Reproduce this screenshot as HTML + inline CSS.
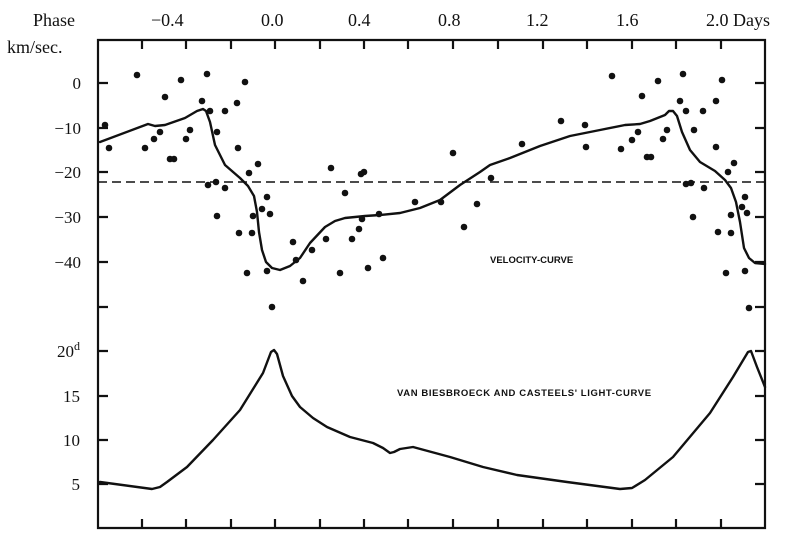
<!DOCTYPE html><html><head><style>body{margin:0;background:#fff}svg{display:block}text{font-family:"Liberation Serif",serif;fill:#111}</style></head><body>
<svg width="802" height="543" viewBox="0 0 802 543">
<g stroke="#111" stroke-width="2.2" fill="none">
<path d="M98,40 L765,40 L765,528 L98,528 Z"/>
<path d="M142,40v9M186,40v9M231,40v9M275,40v9M320,40v9M364,40v9M408,40v9M453,40v9M498,40v9M543,40v9M587,40v9M632,40v9M676,40v9M721,40v9"/>
<path d="M142,528v-9M186,528v-9M231,528v-9M275,528v-9M320,528v-9M364,528v-9M408,528v-9M453,528v-9M498,528v-9M543,528v-9M587,528v-9M632,528v-9M676,528v-9M721,528v-9"/>
<path d="M98,83h10M98,128h10M98,172h10M98,217h10M98,262h10M98,307h10M98,351h10M98,396h10M98,440h10M98,484h10"/>
<path d="M765,83h-10M765,128h-10M765,172h-10M765,217h-10M765,262h-10M765,307h-10M765,351h-10M765,396h-10M765,440h-10M765,484h-10"/>
</g>
<line x1="98" y1="182" x2="765" y2="182" stroke="#111" stroke-width="1.6" stroke-dasharray="9,5"/>
<path fill="none" stroke="#111" stroke-width="2.4" stroke-linejoin="round" stroke-linecap="round" d="M100,142 L148,124 L155,126 L165,125 L185,118 L197,111 L203,109 L206,111 L210,122 L215,145 L225,165 L240,178 L248,186 L254,196 L257,212 L259,232 L262,250 L266,262 L272,268 L280,270 L290,266 L300,258 L310,243 L325,227 L335,221 L345,218 L365,216 L380,215 L400,213 L420,208 L440,200 L460,185 L480,172 L490,165 L510,158 L540,146 L570,136 L600,130 L625,125 L640,124 L650,121 L665,115 L669,111 L673,111 L677,116 L682,132 L690,150 L700,162 L715,171 L725,180 L731,188 L736,202 L740,222 L744,248 L749,258 L755,263 L765,264"/>
<path fill="none" stroke="#111" stroke-width="2.4" stroke-linejoin="round" stroke-linecap="round" d="M100,482 L152,489 L160,487 L167,482 L187,467 L213,440 L240,410 L263,373 L271,352 L274,350 L277,354 L283,376 L292,396 L300,407 L313,418 L327,427 L350,437 L373,443 L383,448 L390,453 L394,452 L400,449 L413,447 L450,457 L483,467 L517,475 L567,482 L620,489 L632,488 L645,480 L673,457 L710,413 L733,377 L748,352 L751,351 L757,367 L765,387"/>
<g fill="#111">
<circle cx="105" cy="125" r="3.3"/><circle cx="109" cy="148" r="3.3"/><circle cx="137" cy="75" r="3.3"/><circle cx="145" cy="148" r="3.3"/><circle cx="154" cy="139" r="3.3"/><circle cx="160" cy="132" r="3.3"/><circle cx="165" cy="97" r="3.3"/><circle cx="170" cy="159" r="3.3"/><circle cx="174" cy="159" r="3.3"/><circle cx="181" cy="80" r="3.3"/><circle cx="186" cy="139" r="3.3"/><circle cx="190" cy="130" r="3.3"/><circle cx="202" cy="101" r="3.3"/><circle cx="207" cy="74" r="3.3"/><circle cx="208" cy="185" r="3.3"/><circle cx="210" cy="111" r="3.3"/><circle cx="216" cy="182" r="3.3"/><circle cx="217" cy="132" r="3.3"/><circle cx="217" cy="216" r="3.3"/><circle cx="225" cy="111" r="3.3"/><circle cx="225" cy="188" r="3.3"/><circle cx="237" cy="103" r="3.3"/><circle cx="238" cy="148" r="3.3"/><circle cx="239" cy="233" r="3.3"/><circle cx="245" cy="82" r="3.3"/><circle cx="247" cy="273" r="3.3"/><circle cx="249" cy="173" r="3.3"/><circle cx="252" cy="233" r="3.3"/><circle cx="253" cy="216" r="3.3"/><circle cx="258" cy="164" r="3.3"/><circle cx="262" cy="209" r="3.3"/><circle cx="267" cy="197" r="3.3"/><circle cx="267" cy="271" r="3.3"/><circle cx="270" cy="214" r="3.3"/><circle cx="272" cy="307" r="3.3"/><circle cx="293" cy="242" r="3.3"/><circle cx="296" cy="260" r="3.3"/><circle cx="303" cy="281" r="3.3"/><circle cx="312" cy="250" r="3.3"/><circle cx="326" cy="239" r="3.3"/><circle cx="331" cy="168" r="3.3"/><circle cx="340" cy="273" r="3.3"/><circle cx="345" cy="193" r="3.3"/><circle cx="352" cy="239" r="3.3"/><circle cx="359" cy="229" r="3.3"/><circle cx="361" cy="174" r="3.3"/><circle cx="364" cy="172" r="3.3"/><circle cx="362" cy="219" r="3.3"/><circle cx="368" cy="268" r="3.3"/><circle cx="379" cy="214" r="3.3"/><circle cx="383" cy="258" r="3.3"/>
<circle cx="415" cy="202" r="3.3"/><circle cx="441" cy="202" r="3.3"/><circle cx="453" cy="153" r="3.3"/><circle cx="464" cy="227" r="3.3"/><circle cx="477" cy="204" r="3.3"/><circle cx="491" cy="178" r="3.3"/><circle cx="522" cy="144" r="3.3"/><circle cx="561" cy="121" r="3.3"/><circle cx="585" cy="125" r="3.3"/><circle cx="586" cy="147" r="3.3"/><circle cx="612" cy="76" r="3.3"/><circle cx="621" cy="149" r="3.3"/><circle cx="632" cy="140" r="3.3"/><circle cx="638" cy="132" r="3.3"/><circle cx="642" cy="96" r="3.3"/><circle cx="647" cy="157" r="3.3"/><circle cx="651" cy="157" r="3.3"/><circle cx="658" cy="81" r="3.3"/><circle cx="663" cy="139" r="3.3"/><circle cx="667" cy="130" r="3.3"/><circle cx="680" cy="101" r="3.3"/><circle cx="683" cy="74" r="3.3"/><circle cx="686" cy="111" r="3.3"/><circle cx="686" cy="184" r="3.3"/><circle cx="691" cy="183" r="3.3"/><circle cx="693" cy="217" r="3.3"/><circle cx="694" cy="130" r="3.3"/><circle cx="703" cy="111" r="3.3"/><circle cx="704" cy="188" r="3.3"/><circle cx="716" cy="101" r="3.3"/><circle cx="716" cy="147" r="3.3"/><circle cx="718" cy="232" r="3.3"/><circle cx="722" cy="80" r="3.3"/><circle cx="726" cy="273" r="3.3"/><circle cx="728" cy="172" r="3.3"/><circle cx="731" cy="215" r="3.3"/><circle cx="731" cy="233" r="3.3"/><circle cx="734" cy="163" r="3.3"/><circle cx="742" cy="207" r="3.3"/><circle cx="745" cy="197" r="3.3"/><circle cx="745" cy="271" r="3.3"/><circle cx="747" cy="213" r="3.3"/><circle cx="749" cy="308" r="3.3"/>
</g>
<g font-size="18">
<text x="33" y="26">Phase</text>
<text x="151" y="26">−0.4</text>
<text x="261" y="26">0.0</text>
<text x="348" y="26">0.4</text>
<text x="438" y="26">0.8</text>
<text x="526" y="26">1.2</text>
<text x="616" y="26">1.6</text>
<text x="706" y="26">2.0 Days</text>
<text x="7" y="53">km/sec.</text>
</g>
<g font-size="17" text-anchor="end">
<text x="81" y="89">0</text>
<text x="81" y="134">−10</text>
<text x="81" y="178">−20</text>
<text x="81" y="223">−30</text>
<text x="81" y="268">−40</text>
<text x="80" y="357">20<tspan font-size="12" dy="-7">d</tspan></text>
<text x="80" y="402">15</text>
<text x="80" y="446">10</text>
<text x="80" y="490">5</text>
</g>
<g font-weight="bold">
<text x="490" y="263" font-size="9.5" style="font-family:'Liberation Sans',sans-serif">VELOCITY-CURVE</text>
<text x="397" y="396" font-size="9.5" letter-spacing="0.6" style="font-family:'Liberation Sans',sans-serif">VAN BIESBROECK AND CASTEELS' LIGHT-CURVE</text>
</g>
</svg></body></html>
